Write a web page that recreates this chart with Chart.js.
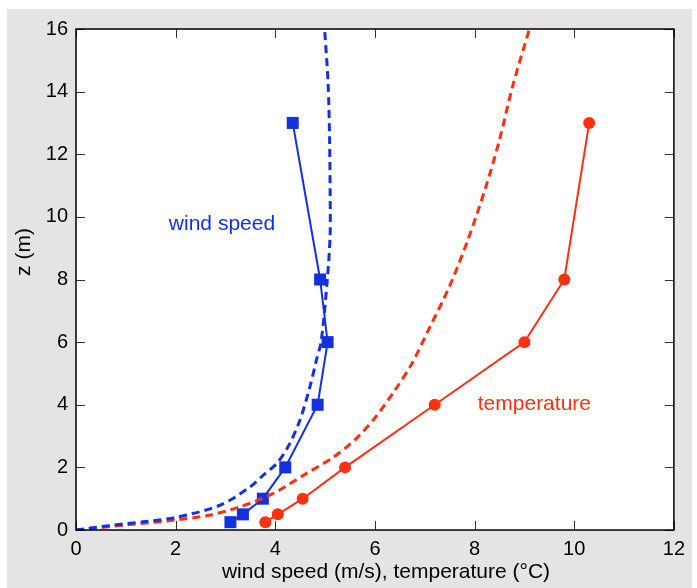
<!DOCTYPE html>
<html lang="en">
<head>
    <meta charset="UTF-8">
    <title>Wind speed and temperature profiles</title>
    <style>
        * { margin: 0; padding: 0; box-sizing: border-box; }
        body { background: #fff; width: 697px; height: 588px; overflow: hidden; }
        .panel {
            position: absolute;
            left: 7px; top: 9px;
            width: 685px; height: 579px;
            background: #e3e4e3;
        }
        canvas { display: block; }
    </style>
    <script src="https://cdn.jsdelivr.net/npm/chart.js"></script>
</head>
<body>
    <div class="panel"><canvas id="profileChart" width="685" height="579"></canvas></div>

    <script>
        // Measured profiles
        const heights = [0.25, 0.5, 1, 2, 4, 6, 8, 13];
        const windSpeed = [3.1, 3.35, 3.75, 4.2, 4.85, 5.05, 4.9, 4.35];
        const temperature = [3.8, 4.05, 4.55, 5.4, 7.2, 9.0, 9.8, 10.3];

        // Fitted (dashed) profiles
        const windFitX = [0, 0.66, 1.34, 2.0, 2.89, 3.49, 3.75, 4.02, 4.25, 4.49, 4.69, 4.82, 4.92, 5.04, 5.10, 5.10, 5.09, 5.06, 4.99];
        const windFitZ = [0, 0.14, 0.26, 0.40, 0.79, 1.37, 1.74, 2.11, 2.64, 3.49, 4.54, 5.39, 6.02, 7.92, 9.40, 10.88, 12.46, 14.26, 16];
        const tempFitX = [0, 1.0, 2.0, 2.67, 3.29, 3.95, 4.62, 5.16, 5.62, 6.03, 6.39, 6.73, 7.09, 7.49, 7.86, 8.23, 8.50, 8.76, 9.10];
        const tempFitZ = [0, 0.16, 0.32, 0.47, 0.74, 1.16, 1.80, 2.32, 2.91, 3.64, 4.44, 5.28, 6.44, 7.76, 9.24, 10.98, 12.46, 14.15, 16];

        // Axis ticks
        const xTicks = [0, 2, 4, 6, 8, 10, 12];
        const yTicks = [0, 2, 4, 6, 8, 10, 12, 14, 16];

        // Text labels in data units
        const labels = [
            { text: 'wind speed', x: 2.93, z: 9.76, color: '#1232e0' },
            { text: 'temperature', x: 9.2, z: 4.02, color: '#ff3010' }
        ];
        const xTitle = 'wind speed (m/s), temperature (°C)';
        const yTitle = 'z (m)';

        const BLUE = '#1232e0';
        const RED = '#ff3010';
        const FONT = "'Liberation Sans', Arial, sans-serif";

        const pairs = (xs, ys) => xs.map((x, i) => ({ x: x, y: ys[i] }));

        // white plot area, box with inward ticks, in-plot labels, axis titles
        const framePlugin = {
            id: 'frame',
            beforeDatasetsDraw(chart) {
                const { ctx, chartArea: a } = chart;
                ctx.save();
                ctx.fillStyle = '#fff';
                ctx.fillRect(a.left, a.top, a.right - a.left, a.bottom - a.top);
                ctx.restore();
            },
            afterDatasetsDraw(chart) {
                const { ctx, chartArea: a, scales } = chart;
                const len = 9;
                ctx.save();
                ctx.strokeStyle = '#333';
                ctx.lineWidth = 1;
                ctx.beginPath();
                xTicks.forEach(v => {
                    const px = Math.round(scales.x.getPixelForValue(v)) + 0.5;
                    ctx.moveTo(px, a.bottom); ctx.lineTo(px, a.bottom - len);
                    ctx.moveTo(px, a.top); ctx.lineTo(px, a.top + len);
                });
                yTicks.forEach(v => {
                    const py = Math.round(scales.y.getPixelForValue(v)) + 0.5;
                    ctx.moveTo(a.left, py); ctx.lineTo(a.left + len, py);
                    ctx.moveTo(a.right, py); ctx.lineTo(a.right - len, py);
                });
                ctx.stroke();
                ctx.strokeStyle = '#000';
                ctx.lineWidth = 1.5;
                ctx.strokeRect(a.left, a.top, a.right - a.left, a.bottom - a.top);

                ctx.font = '21px ' + FONT;
                ctx.textAlign = 'center';
                ctx.textBaseline = 'middle';
                labels.forEach(l => {
                    ctx.fillStyle = l.color;
                    ctx.fillText(l.text, scales.x.getPixelForValue(l.x), scales.y.getPixelForValue(l.z));
                });

                ctx.fillStyle = '#000';
                ctx.fillText(xTitle, 379, 563);
                ctx.translate(17, 243);
                ctx.rotate(-Math.PI / 2);
                ctx.fillText(yTitle, 0, 0);
                ctx.restore();
            }
        };

        new Chart(document.getElementById('profileChart'), {
            type: 'scatter',
            data: {
                datasets: [{
                    label: 'wind speed fit',
                    data: pairs(windFitX, windFitZ),
                    showLine: true,
                    borderColor: BLUE,
                    borderWidth: 3,
                    borderDash: [8, 5],
                    pointRadius: 0,
                    tension: 0.3
                }, {
                    label: 'temperature fit',
                    data: pairs(tempFitX, tempFitZ),
                    showLine: true,
                    borderColor: RED,
                    borderWidth: 3,
                    borderDash: [8, 5],
                    pointRadius: 0,
                    tension: 0.3
                }, {
                    label: 'wind speed',
                    data: pairs(windSpeed, heights),
                    showLine: true,
                    borderColor: BLUE,
                    backgroundColor: BLUE,
                    borderWidth: 2,
                    pointStyle: 'rect',
                    pointRadius: 8.5,
                    pointBorderWidth: 0
                }, {
                    label: 'temperature',
                    data: pairs(temperature, heights),
                    showLine: true,
                    borderColor: RED,
                    backgroundColor: RED,
                    borderWidth: 2,
                    pointStyle: 'circle',
                    pointRadius: 6,
                    pointBorderWidth: 0
                }]
            },
            options: {
                responsive: false,
                animation: false,
                events: [],
                layout: { padding: { top: 16, right: 17, left: 0, bottom: 0 } },
                plugins: { legend: { display: false }, tooltip: { enabled: false } },
                scales: {
                    x: {
                        type: 'linear', min: 0, max: 12,
                        afterBuildTicks: s => { s.ticks = xTicks.map(v => ({ value: v })); },
                        afterFit: s => { s.height = 58; },
                        grid: { display: false, drawTicks: false },
                        border: { display: false },
                        ticks: { color: '#000', padding: 7, font: { family: FONT, size: 20 } }
                    },
                    y: {
                        type: 'linear', min: 0, max: 16,
                        afterBuildTicks: s => { s.ticks = yTicks.map(v => ({ value: v })); },
                        afterFit: s => { s.width = 69; },
                        grid: { display: false, drawTicks: false },
                        border: { display: false },
                        ticks: { color: '#000', padding: 8, font: { family: FONT, size: 20 } }
                    }
                }
            },
            plugins: [framePlugin]
        });
    </script>
</body>
</html>
